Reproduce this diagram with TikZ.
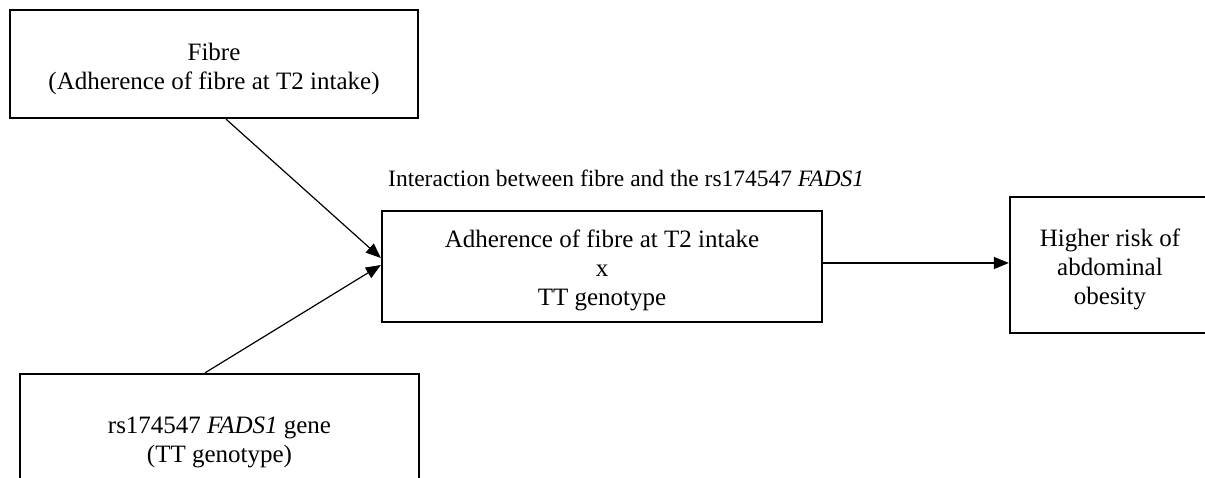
\documentclass[tikz,border=0pt]{standalone}
\usepackage{fontspec}
\setmainfont{Liberation Serif}
\usetikzlibrary{arrows.meta}
\begin{document}
\begin{tikzpicture}[x=1pt,y=-1pt,
  box/.style={draw, line width=2.3pt, inner sep=0pt},
  txt/.style={align=center, inner sep=0pt,
    font=\fontsize{25pt}{29pt}\selectfont},
  arr/.style={line width=1.2pt, -{Triangle[length=15pt,width=12pt]}},
  lbl/.style={font=\fontsize{23.5pt}{27pt}\selectfont, inner sep=0pt}]
\useasboundingbox (0,0) rectangle (1205,478);
\node[box, minimum width=408pt, minimum height=108pt] (fibre) at (214,64) {};
\node[txt] (fibreT) at (214,69) {Fibre\\(Adherence of fibre at T2 intake)};
\node[box, minimum width=399pt, minimum height=129pt] (gene) at (219.5,438.5) {};
\node[txt] (geneT) at (219.5,442) {rs174547 \textit{FADS1} gene\\(TT genotype)};
\node[box, minimum width=440pt, minimum height=111pt] (inter) at (602,266.5) {};
\node[txt] (interT) at (602,270) {Adherence of fibre at T2 intake\\x\\TT genotype};
\node[box, minimum width=200pt, minimum height=136pt] (risk) at (1110,265) {};
\node[txt] (riskT) at (1110,269) {Higher risk of\\abdominal\\obesity};
\node[lbl, anchor=west] (label) at (388,178)
  {Interaction between fibre and the rs174547 \textit{FADS1}};
\draw[arr] ([xshift=12pt]fibre.south) -- ([yshift=8.5pt]inter.west);
\draw[arr] ([xshift=-14.5pt]gene.north) -- ([yshift=1.5pt]inter.west);
\draw[arr] ([yshift=3.5pt]inter.east) -- ([yshift=3.5pt]inter.east -| risk.west);
\end{tikzpicture}
\end{document}
